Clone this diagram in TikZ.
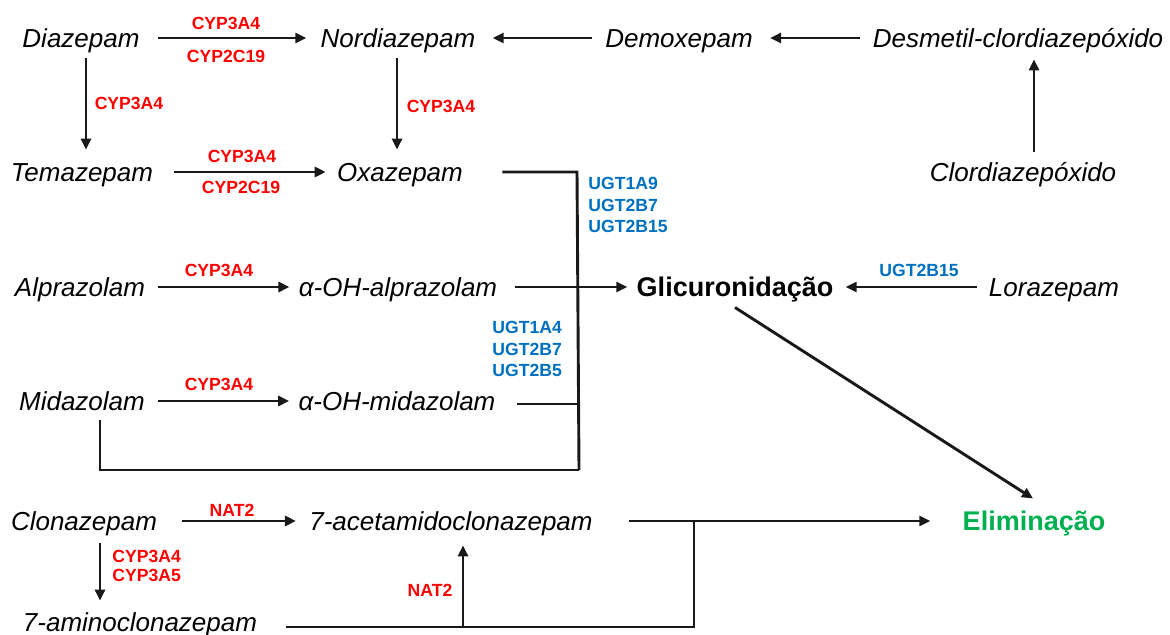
\documentclass[tikz,border=0pt]{standalone}
\usepackage{fontspec}
\setmainfont{Liberation Sans}
\usetikzlibrary{arrows.meta,calc}
\definecolor{enzred}{RGB}{255,0,0}
\definecolor{enzblue}{RGB}{0,112,192}
\definecolor{elimgreen}{RGB}{0,176,80}
\begin{document}
\begin{tikzpicture}[x=0.5pt,y=-0.5pt,
  drug/.style={inner sep=0pt, font=\fontsize{13}{15}\selectfont\itshape, text height=9.36pt, text depth=0pt},
  big/.style={inner sep=0pt, font=\fontsize{13.5}{16}\selectfont\bfseries, text height=9.7pt, text depth=0pt},
  enz/.style={inner sep=0pt, font=\fontsize{8.8}{9.5}\selectfont\bfseries, text=enzred, align=left},
  ugt/.style={inner sep=0pt, font=\fontsize{8.8}{10.75}\selectfont\bfseries, text=enzblue, align=left},
  arr/.style={line width=1.45pt, draw=black!90, -{Triangle[length=5.5pt,width=5pt]}},
  ln/.style={line width=1.45pt, draw=black!90},
]
\useasboundingbox (0,0) rectangle (1170,635);

% compounds
\node[drug] (dia) at (81,38) {Diazepam};
\node[drug] (nor) at (398,38) {Nordiazepam};
\node[drug] (dem) at (679,38) {Demoxepam};
\node[drug] (des) at (1018,38) {Desmetil-clordiazepóxido};
\node[drug] (tem) at (82,172) {Temazepam};
\node[drug] (oxa) at (400,172) {Oxazepam};
\node[drug] (clo) at (1023,172) {Clordiazepóxido};
\node[drug] (alp) at (80,287) {Alprazolam};
\node[drug] (aoa) at (398,287) {α-OH-alprazolam};
\node[big] (gli) at (735,287) {Glicuronidação};
\node[drug] (lor) at (1054,287) {Lorazepam};
\node[drug] (mid) at (82,401) {Midazolam};
\node[drug] (aom) at (397,401) {α-OH-midazolam};
\node[drug] (cln) at (84,521) {Clonazepam};
\node[drug] (ace) at (451,521) {7-acetamidoclonazepam};
\node[big, text=elimgreen] (eli) at (1034,521) {Eliminação};
\node[drug] (ami) at (140,622) {7-aminoclonazepam};

% enzyme labels
\node[enz] (e1) at (226,23) {CYP3A4};
\node[enz] (e2) at (226,56) {CYP2C19};
\node[enz] (e3) at (129,103) {CYP3A4};
\node[enz] (e4) at (441,106) {CYP3A4};
\node[enz] (e5) at (242,156) {CYP3A4};
\node[enz] (e6) at (241,187) {CYP2C19};
\node[enz] (e7) at (219,270) {CYP3A4};
\node[enz] (e8) at (219,384) {CYP3A4};
\node[enz] (e9) at (232,510) {NAT2};
\node[enz, anchor=west] (e10) at (112,566) {CYP3A4\\CYP3A5};
\node[enz] (e11) at (430,590) {NAT2};
\node[ugt, anchor=west] (u1) at (588,205) {UGT1A9\\UGT2B7\\UGT2B15};
\node[ugt, anchor=west] (u2) at (492,349) {UGT1A4\\UGT2B7\\UGT2B5};
\node[ugt] (u3) at (919,270) {UGT2B15};

% junction points
\coordinate (c1) at (577,172);
\coordinate (c2) at (579,470);
\coordinate (c3) at (100,470);
\coordinate (c4) at (577,404);
\coordinate (jb) at (694,627);
\coordinate (jn) at (463,627);

% arrows
\draw[arr, shorten <=9pt, shorten >=7pt] (dia) -- (nor);
\draw[arr, shorten <=6.5pt, shorten >=8.5pt] (dem) -- (nor);
\draw[arr, shorten <=6pt, shorten >=8.5pt] (des) -- (dem);
\draw[arr, shorten <=5.3pt, shorten >=5.8pt] ([xshift=5.5pt]clo.north) -- ([xshift=8pt]des.south);
\draw[arr, shorten <=5.3pt, shorten >=6.3pt] ([xshift=2.5pt]dia.south) -- ([xshift=2pt]tem.north);
\draw[arr, shorten <=5.3pt, shorten >=6.3pt] ([xshift=-0.5pt]nor.south) -- ([xshift=-1.5pt]oxa.north);
\draw[arr, shorten <=10.5pt, shorten >=5.5pt] (tem) -- (oxa);
\draw[arr, shorten <=6.5pt, shorten >=4.5pt] (alp) -- (aoa);
\draw[arr, shorten <=6.5pt, shorten >=4.5pt] (mid) -- (aom);
\draw[arr, shorten <=8.5pt, shorten >=4.5pt] (aoa) -- (gli);
\draw[arr, shorten <=6pt, shorten >=6pt] (lor) -- (gli);
\draw[arr] ([yshift=-5.2pt]gli.south) -- ([xshift=-0.5pt,yshift=6.2pt]eli.north);
\draw[arr, shorten <=12.5pt, shorten >=6.5pt] (cln) -- (ace);
\draw[arr, shorten <=6.3pt, shorten >=5.8pt] ([xshift=8pt]cln.south) -- ([xshift=-20pt]ami.north);
\draw[arr, shorten <=18pt, shorten >=16pt] (ace) -- (eli);
\draw[arr, shorten >=7.3pt] (jn) -- ([xshift=6pt]ace.south);

% glucuronidation collector lines
\draw[ln, shorten <=19.5pt] (oxa.east) -- (c1) -- (c2);
\draw[ln, shorten <=4.8pt] ([xshift=9pt]mid.south) -- (c3) -- (c2);
\draw[ln] ($(aom.east |- c4)+(21,0)$) -- (c4);
\draw[ln] ($(ami.east |- jb)+(29,0)$) -- (jb) -- (jb |- ace);
\end{tikzpicture}
\end{document}
